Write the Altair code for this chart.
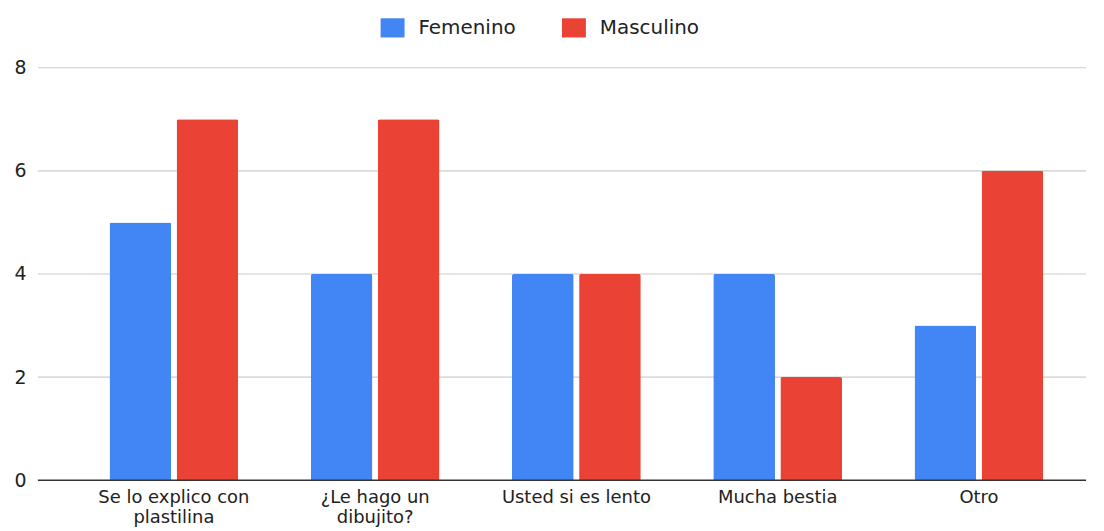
import altair as alt
import pandas as pd

categories = ["Se lo explico con plastilina", "¿Le hago un dibujito?", "Usted si es lento", "Mucha bestia", "Otro"]
label_lines = [["Se lo explico con", "plastilina"], ["¿Le hago un", "dibujito?"], ["Usted si es lento"], ["Mucha bestia"], ["Otro"]]
series = ["Femenino", "Masculino"]
femenino = [5, 4, 4, 4, 3]
masculino = [7, 7, 4, 2, 6]
colors = ["#4285F4", "#EA4335"]
y_ticks = [0, 2, 4, 6, 8]

rows = []
for i, c in enumerate(categories):
    rows.append({"cat": c, "serie": series[0], "val": femenino[i]})
    rows.append({"cat": c, "serie": series[1], "val": masculino[i]})
df = pd.DataFrame(rows)

expr = ""
for c, lines in zip(categories, label_lines):
    arr = "[" + ",".join("'" + l + "'" for l in lines) + "]"
    expr += f"datum.value == '{c}' ? {arr} : "
expr += "datum.label"

FONT = "DejaVu Sans"
W = 1052

grid = alt.Chart(pd.DataFrame({"y": y_ticks[1:]})).mark_rule(color="#cccccc", strokeWidth=1.2).encode(
    y=alt.Y("y:Q", scale=alt.Scale(domain=[0, 8])), x=alt.value(0), x2=alt.value(W))

bars = alt.Chart(df).mark_bar(cornerRadiusTopLeft=2, cornerRadiusTopRight=2).encode(
    x=alt.X("cat:N", sort=categories, title=None,
            scale=alt.Scale(range=[35.5, 1045.5], paddingInner=0.36, paddingOuter=0.18),
            axis=alt.Axis(labelAngle=0, labelExpr=expr, labelFontSize=18, labelFont=FONT,
                          labelColor="#222222", ticks=False, domain=False, labelPadding=8,
                          labelLineHeight=20, labelLimit=300)),
    xOffset=alt.XOffset("serie:N", sort=series, scale=alt.Scale(paddingInner=0.08, paddingOuter=0)),
    y=alt.Y("val:Q", title=None,
            scale=alt.Scale(domain=[0, 8]),
            axis=alt.Axis(values=y_ticks, labelFontSize=19, labelFont=FONT, grid=False,
                          labelColor="#222222", ticks=False, domain=False, labelPadding=12)),
    color=alt.Color("serie:N", sort=series, scale=alt.Scale(domain=series, range=colors),
                    legend=alt.Legend(title=None, orient="none", direction="horizontal",
                                      legendX=346, legendY=-50,
                                      symbolType="M-1.25,-1L1.25,-1L1.25,1L-1.25,1Z",
                                      symbolSize=370, symbolStrokeWidth=0,
                                      labelFontSize=20, labelFont=FONT, labelColor="#222222",
                                      labelOffset=16, columnPadding=45)),
)

zero = alt.Chart(pd.DataFrame({"y": [0]})).mark_rule(color="#333333", strokeWidth=1.5).encode(
    y=alt.Y("y:Q", scale=alt.Scale(domain=[0, 8])), x=alt.value(0), x2=alt.value(W))

final = alt.layer(grid, bars, zero).properties(
    width=W, height=414,
    autosize=alt.AutoSizeParams(type="none"),
    padding={"left": 30, "top": 59, "right": 10, "bottom": 50},
).configure_view(stroke=None)

final.save("out.html", embed_options={"renderer": "svg", "actions": False})
